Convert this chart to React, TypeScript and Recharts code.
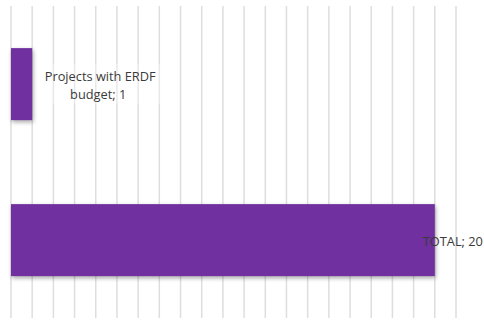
import { BarChart, Bar, XAxis, YAxis, CartesianGrid, LabelList } from "recharts";

const categories = ["Projects with ERDF budget", "TOTAL"];
const values = [1, 20];
const xTicks = [0, 1, 2, 3, 4, 5, 6, 7, 8, 9, 10, 11, 12, 13, 14, 15, 16, 17, 18, 19, 20, 21];

const data = categories.map((name, i) => ({ name, value: values[i] }));

const font = "Open Sans, Liberation Sans, sans-serif";

const ShadowBar = (props: any) => {
  const { x, y, width, height } = props;
  return (
    <rect
      x={x}
      y={y}
      width={width}
      height={height}
      fill="#7030A0"
      style={{ filter: "drop-shadow(1px 2px 2px rgba(0,0,0,0.35))" }}
    />
  );
};

const BarLabel = (props: any) => {
  const { x, y, width, height, index, value } = props;
  const cy = y + height / 2;
  const end = x + width;
  if (index === 0) {
    const cx = end + 68;
    return (
      <g>
        <rect x={cx - 60} y={cy - 20} width={120} height={40} fill="#fff" opacity={0.3} />
        <text x={cx} y={cy - 8} textAnchor="middle" dominantBaseline="central"
          fontFamily={font} fontSize={12.8} fill="#3a3a3a">
          Projects with ERDF
        </text>
        <text x={cx - 2} y={cy + 10} textAnchor="middle" dominantBaseline="central"
          fontFamily={font} fontSize={12.8} fill="#3a3a3a">
          {`budget; ${value}`}
        </text>
      </g>
    );
  }
  return (
    <text x={end - 12} y={cy + 1} textAnchor="start" dominantBaseline="central"
      fontFamily={font} fontSize={12.8} fill="#3a3a3a">
      {`${categories[index]}; ${value}`}
    </text>
  );
};

export default function App() {
  return (
    <div style={{ position: "absolute", left: 0, top: 0, background: "#fff" }}>
      <BarChart
        width={484}
        height={320}
        data={data}
        layout="vertical"
        margin={{ top: 6, right: 28, bottom: 2, left: 11 }}
        barCategoryGap="27%"
      >
        <CartesianGrid horizontal={false} stroke="#dedede" strokeWidth={1.5} />
        <XAxis type="number" domain={[0, 21]} ticks={xTicks} hide />
        <YAxis type="category" dataKey="name" hide />
        <Bar dataKey="value" shape={<ShadowBar />} isAnimationActive={false}>
          <LabelList dataKey="value" content={<BarLabel />} />
        </Bar>
      </BarChart>
    </div>
  );
}
